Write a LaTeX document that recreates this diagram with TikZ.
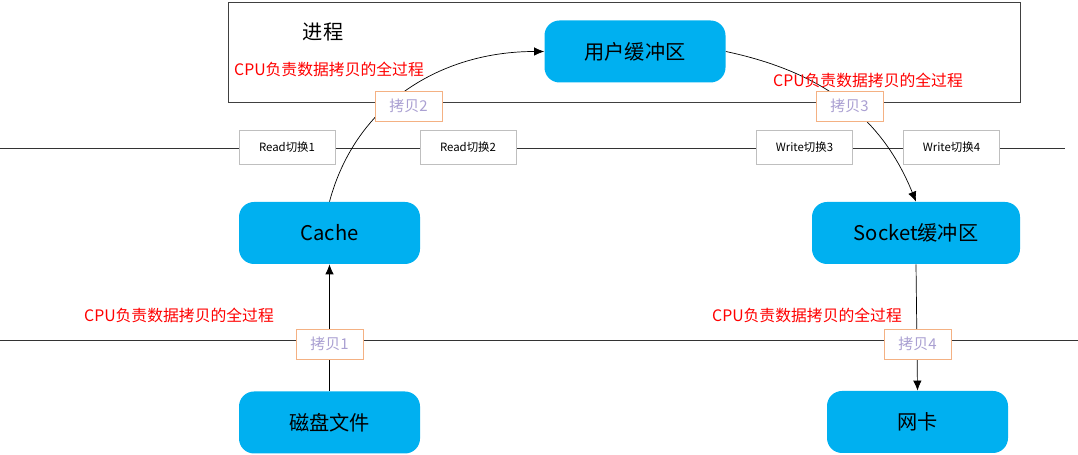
\documentclass[tikz,border=0pt]{standalone}
\usepackage{fontspec}
\setmainfont{Noto Sans CJK SC}
\usetikzlibrary{arrows.meta}
\definecolor{bufblue}{RGB}{0,176,240}
\definecolor{copyedge}{RGB}{244,177,131}
\definecolor{copytext}{RGB}{170,160,210}
\definecolor{swedge}{RGB}{191,191,191}

\begin{document}
\begin{tikzpicture}[>={Latex[length=2mm,width=1.7mm]}, % filled arrowheads
  buf/.style={rectangle,rounded corners=3mm,fill=bufblue,minimum height=1.24cm,
    minimum width=3.62cm,font=\fontsize{11.5}{13}\selectfont},
  copybox/.style={rectangle,draw=copyedge,fill=white,text=copytext,minimum width=1.34cm,
    minimum height=0.6cm,font=\fontsize{8.5}{10}\selectfont},
  swbox/.style={rectangle,draw=swedge,fill=white,minimum width=1.92cm,
    minimum height=0.68cm,font=\fontsize{6.5}{8}\selectfont},
  cpu/.style={text=red,font=\fontsize{9}{11}\selectfont}]

  \useasboundingbox (0,0) rectangle (21.56,9.10);

  \node[draw=black!75,minimum width=15.84cm,minimum height=2cm](proc) at (12.48,8.06) {};
  \node[font=\fontsize{11.5}{13}\selectfont](proclabel) at (6.46,8.46) {进程};

  \node[buf](user) at (12.70,8.07) {用户缓冲区};
  \node[buf](cache) at (6.59,4.44) {Cache};
  \node[buf,minimum width=4.16cm](sock) at (18.32,4.44) {Socket缓冲区};
  \node[buf](disk) at (6.59,0.65) {磁盘文件};
  \node[buf](nic) at (18.35,0.66) {网卡};

  \coordinate (l1a) at (0,6.14);
  \coordinate (l1b) at (21.30,6.14);
  \coordinate (l2a) at (0,2.30);
  \coordinate (l2b) at (21.56,2.30);
  \draw[black!80] (l1a) -- (l1b);
  \draw[black!80] (l2a) -- (l2b);

  \draw[->] (disk) -- (cache);
  \draw[->] (cache.north) to[out=75,in=180] (user.west);
  \draw[->] (user.east) to[out=-12,in=112] (sock.north);
  \draw[->] (sock.south) -- (nic.north);

  \node[swbox](r1) at (5.74,6.16) {Read切换1};
  \node[swbox](r2) at (9.36,6.16) {Read切换2};
  \node[swbox](w3) at (16.09,6.16) {Write切换3};
  \node[swbox](w4) at (19.03,6.16) {Write切换4};

  \node[copybox](c1) at (6.59,2.22) {拷贝1};
  \node[copybox](c2) at (8.17,6.98) {拷贝2};
  \node[copybox](c3) at (16.99,6.98) {拷贝3};
  \node[copybox](c4) at (18.35,2.22) {拷贝4};

  \node[cpu](cpu2) at (6.58,7.72) {CPU负责数据拷贝的全过程};
  \node[cpu](cpu3) at (17.36,7.50) {CPU负责数据拷贝的全过程};
  \node[cpu](cpu1) at (3.58,2.80) {CPU负责数据拷贝的全过程};
  \node[cpu](cpu4) at (16.14,2.80) {CPU负责数据拷贝的全过程};

\end{tikzpicture}
\end{document}
